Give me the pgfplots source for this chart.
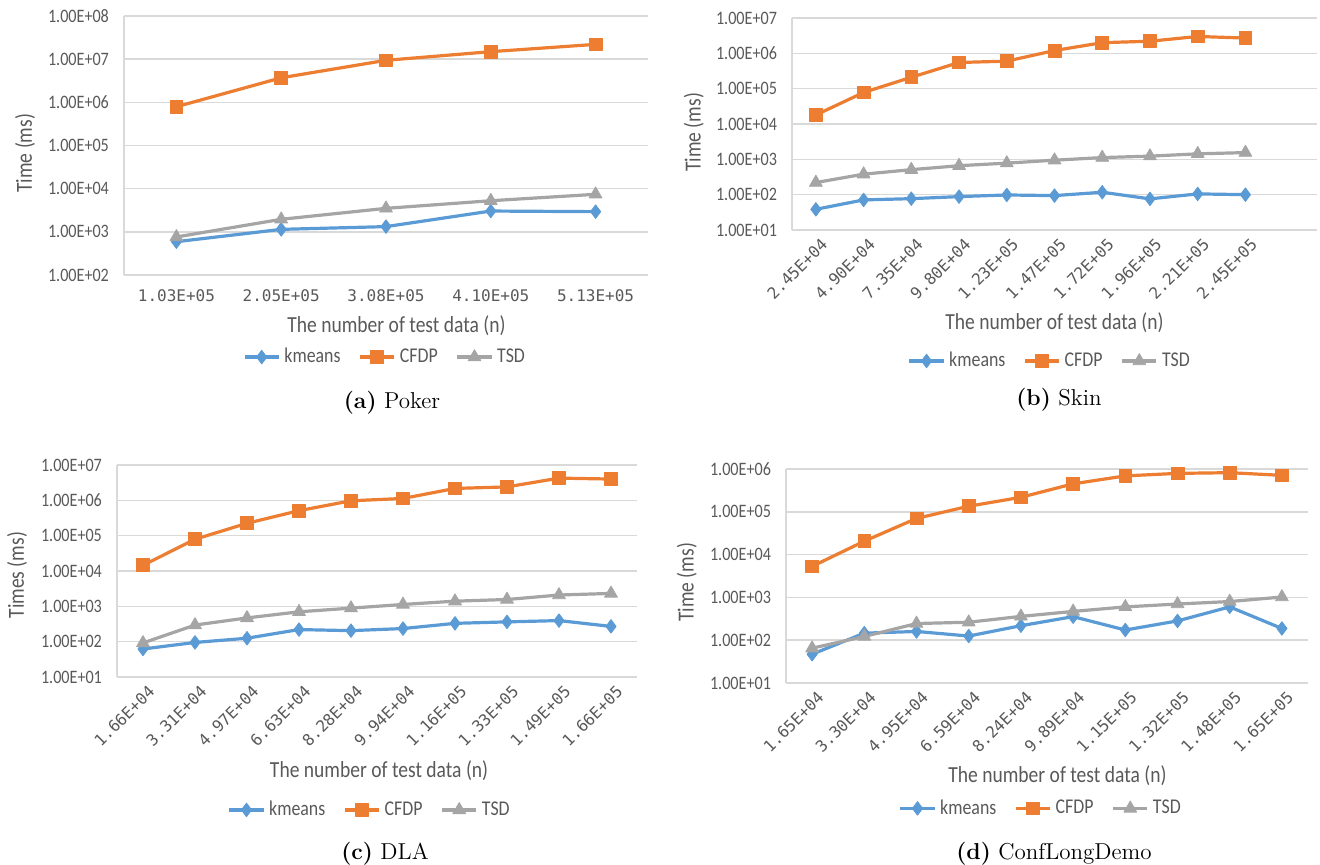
\documentclass[border=0pt]{standalone}
\usepackage{fontspec}
\usepackage{pgfplots}
\pgfplotsset{compat=1.18}
\newfontfamily\chartfont[FakeStretch=0.85]{Carlito}
\newfontfamily\catfont{DejaVu Sans Mono}
\definecolor{kblue}{HTML}{5B9BD5}
\definecolor{corange}{HTML}{ED7D31}
\definecolor{tgray}{HTML}{A5A5A5}
\definecolor{gridc}{HTML}{D9D9D9}
\definecolor{txt}{HTML}{595959}

\pgfplotsset{
  every axis/.append style={
    scale only axis,
    axis lines*=left,
    axis line style={gridc, line width=0.8pt, -},
    ymajorgrids,
    major grid style={gridc, line width=0.8pt},
    major tick length=0pt,
    minor tick length=0pt,
    yticklabel style={font=\chartfont\fontsize{9.5}{11}\selectfont, text=txt, xshift=-4pt},
    xticklabel style={font=\catfont\fontsize{8}{10}\selectfont, text=txt},
    every axis label/.append style={font=\chartfont\fontsize{11.5}{13}\selectfont, text=txt},
    legend style={draw=none, fill=none, font=\chartfont\fontsize{10.5}{12}\selectfont,
      text=txt, legend columns=3},
    legend cell align=left,
    clip=false,
    xmin=-0.5,
  },
}
\tikzset{
  km/.style={kblue, line width=1.6pt, line join=round, mark=diamond*, mark size=3.4pt,
    mark options={fill=kblue, draw=kblue, line width=0.4pt}},
  cf/.style={corange, line width=1.6pt, line join=round, mark=square*, mark size=3.2pt,
    mark options={fill=corange, draw=corange, line width=0.4pt}},
  ts/.style={tgray, line width=1.6pt, line join=round, mark=triangle*, mark size=3.7pt,
    mark options={fill=tgray, draw=tgray, line width=0.4pt}},
  every even column/.append style={column sep=7pt},
}

\begin{document}
\begin{tikzpicture}
\path[use as bounding box] (0,0) rectangle (660pt,432.5pt);

% (a) Poker
\begin{axis}[
  ymode=log,
  at={(62pt,424.5pt)}, anchor=north west,
  width=262pt, height=129.5pt,
  xmax=4.5,
  ymin=1e2, ymax=1e8,
  ytick={1e2,1e3,1e4,1e5,1e6,1e7,1e8},
  yticklabels={1.00E+02,1.00E+03,1.00E+04,1.00E+05,1.00E+06,1.00E+07,1.00E+08},
  xtick={0,1,2,3,4},
  xticklabels={1.03E+05,2.05E+05,3.08E+05,4.10E+05,5.13E+05},
  xticklabel style={yshift=-4pt},
  xlabel={The number of test data (n)},
  ylabel={Time (ms)},
  xlabel style={at={(axis description cs:0.52,-0.197)}, anchor=center},
  ylabel style={at={(axis description cs:-0.189,0.47)}, anchor=center},
  legend style={at={(axis description cs:0.5,-0.317)}, anchor=center},
]
\addplot[km] coordinates {(0,590) (1,1140) (2,1320) (3,3030) (4,2930)};
\addplot[cf] coordinates {(0,7.9e5) (1,3.7e6) (2,9.4e6) (3,1.49e7) (4,2.2e7)};
\addplot[ts] coordinates {(0,760) (1,1950) (2,3500) (3,5250) (4,7400)};
\legend{kmeans,CFDP,TSD}
\end{axis}

% (b) Skin
\begin{axis}[
  ymode=log,
  xticklabel style={rotate=45, anchor=north east, inner sep=1pt, yshift=-3pt},
  at={(396pt,423.5pt)}, anchor=north west,
  width=262.5pt, height=106pt,
  xmax=10.5,
  ymin=1e1, ymax=1e7,
  ytick={1e1,1e2,1e3,1e4,1e5,1e6,1e7},
  yticklabels={1.00E+01,1.00E+02,1.00E+03,1.00E+04,1.00E+05,1.00E+06,1.00E+07},
  xtick={0,...,9},
  xticklabels={2.45E+04,4.90E+04,7.35E+04,9.80E+04,1.23E+05,1.47E+05,1.72E+05,1.96E+05,2.21E+05,2.45E+05},
  xlabel={The number of test data (n)},
  ylabel={Time (ms)},
  xlabel style={at={(axis description cs:0.50,-0.439)}, anchor=center},
  ylabel style={at={(axis description cs:-0.187,0.46)}, anchor=center},
  legend style={at={(axis description cs:0.493,-0.618)}, anchor=center},
]
\addplot[km] coordinates {(0,38.5) (1,71) (2,77) (3,88) (4,98) (5,94) (6,117) (7,76) (8,105) (9,100)};
\addplot[cf] coordinates {(0,1.8e4) (1,7.8e4) (2,2.1e5) (3,5.5e5) (4,6.0e5) (5,1.2e6) (6,2.0e6) (7,2.2e6) (8,3.0e6) (9,2.7e6)};
\addplot[ts] coordinates {(0,220) (1,380) (2,510) (3,660) (4,780) (5,945) (6,1120) (7,1230) (8,1430) (9,1550)};
\legend{kmeans,CFDP,TSD}
\end{axis}

% (c) DLA
\begin{axis}[
  ymode=log,
  xticklabel style={rotate=45, anchor=north east, inner sep=1pt, yshift=-3pt},
  at={(58.5pt,200pt)}, anchor=north west,
  width=260pt, height=106pt,
  xmax=9.5,
  ymin=1e1, ymax=1e7,
  ytick={1e1,1e2,1e3,1e4,1e5,1e6,1e7},
  yticklabels={1.00E+01,1.00E+02,1.00E+03,1.00E+04,1.00E+05,1.00E+06,1.00E+07},
  xtick={0,...,9},
  xticklabels={1.66E+04,3.31E+04,4.97E+04,6.63E+04,8.28E+04,9.94E+04,1.16E+05,1.33E+05,1.49E+05,1.66E+05},
  xlabel={The number of test data (n)},
  ylabel={Times (ms)},
  xlabel style={at={(axis description cs:0.504,-0.443)}, anchor=center},
  ylabel style={at={(axis description cs:-0.192,0.48)}, anchor=center},
  legend style={at={(axis description cs:0.488,-0.627)}, anchor=center},
]
\addplot[km] coordinates {(0,62) (1,95) (2,125) (3,220) (4,205) (5,235) (6,330) (7,363) (8,395) (9,270)};
\addplot[cf] coordinates {(0,1.45e4) (1,7.9e4) (2,2.24e5) (3,5.1e5) (4,9.7e5) (5,1.13e6) (6,2.17e6) (7,2.4e6) (8,4.25e6) (9,4.0e6)};
\addplot[ts] coordinates {(0,92) (1,295) (2,470) (3,700) (4,890) (5,1130) (6,1400) (7,1560) (8,2090) (9,2320)};
\legend{kmeans,CFDP,TSD}
\end{axis}

% (d) ConfLongDemo
\begin{axis}[
  ymode=log,
  xticklabel style={rotate=45, anchor=north east, inner sep=1pt, yshift=-3pt},
  at={(393pt,198pt)}, anchor=north west,
  width=261pt, height=107pt,
  xmax=9.5,
  ymin=1e1, ymax=1e6,
  ytick={1e1,1e2,1e3,1e4,1e5,1e6},
  yticklabels={1.00E+01,1.00E+02,1.00E+03,1.00E+04,1.00E+05,1.00E+06},
  xtick={0,...,9},
  xticklabels={1.65E+04,3.30E+04,4.95E+04,6.59E+04,8.24E+04,9.89E+04,1.15E+05,1.32E+05,1.48E+05,1.65E+05},
  xlabel={The number of test data (n)},
  ylabel={Time (ms)},
  xlabel style={at={(axis description cs:0.52,-0.433)}, anchor=center},
  ylabel style={at={(axis description cs:-0.19,0.47)}, anchor=center},
  legend style={at={(axis description cs:0.49,-0.586)}, anchor=center},
]
\addplot[km] coordinates {(0,47) (1,146) (2,160) (3,125) (4,218) (5,355) (6,173) (7,282) (8,600) (9,188)};
\addplot[cf] coordinates {(0,5300) (1,2.06e4) (2,7.0e4) (3,1.35e5) (4,2.18e5) (5,4.5e5) (6,6.9e5) (7,7.9e5) (8,8.2e5) (9,7.1e5)};
\addplot[ts] coordinates {(0,65) (1,122) (2,245) (3,263) (4,360) (5,470) (6,600) (7,700) (8,800) (9,1020)};
\legend{kmeans,CFDP,TSD}
\end{axis}

% sub-figure captions
\node[font=\fontsize{11.5}{13}\selectfont] at (196pt,231pt) {\textbf{(a)}~Poker};
\node[font=\fontsize{11.5}{13}\selectfont] at (529.5pt,232.5pt) {\textbf{(b)}~Skin};
\node[font=\fontsize{11.5}{13}\selectfont] at (192.5pt,5.5pt) {\textbf{(c)}~DLA};
\node[font=\fontsize{11.5}{13}\selectfont] at (527pt,5.5pt) {\textbf{(d)}~ConfLongDemo};
\end{tikzpicture}
\end{document}
